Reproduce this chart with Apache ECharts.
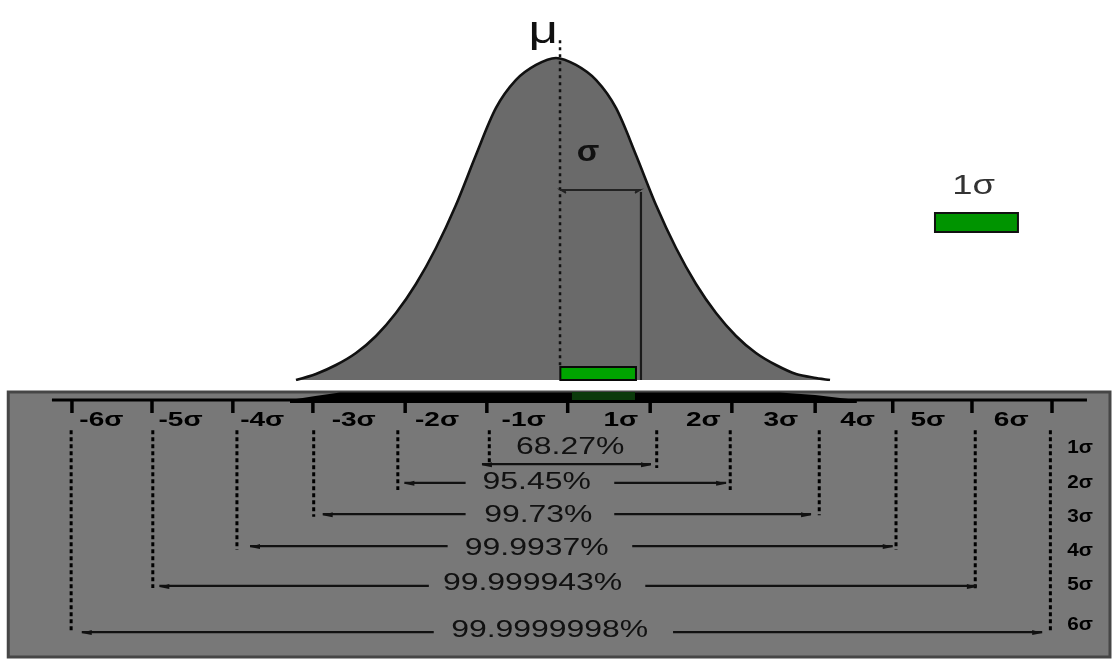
<!DOCTYPE html>
<html><head><meta charset="utf-8">
<script src="https://cdn.jsdelivr.net/npm/echarts@6/dist/echarts.min.js"></script>
<style>html,body{margin:0;padding:0;background:#fff}#c{width:1118px;height:660px}</style>
</head><body><div id="c"></div>
<script>
// ================= DATA =================
// Bell curve outline: x in sigma units, y in density units
const curveSigma   = [-3.257,-3.012,-2.767,-2.522,-2.277,-2.033,-1.788,-1.543,-1.298,-1.053,-0.808,-0.563,-0.318,-0.073,
                       0.171, 0.416, 0.661, 0.906, 1.151, 1.396, 1.641, 1.886, 2.131, 2.375, 2.620, 2.865, 3.110, 3.282];
const curveDensity = [0, 0.0075,0.0186,0.0335,0.0547,0.0832,0.1193,0.1640,0.2174,0.2795,0.3379,0.3727,0.3913,0.4000,
                      0.3913,0.3727,0.3379,0.2795,0.2174,0.1640,0.1193,0.0832,0.0547,0.0335,0.0186,0.0075,0.0025,0];
const meanSigma = -0.024;          // dotted centre line
const oneSigma  = 0.967;           // the "1σ" marker line
const sigmaBracketDensity = 0.236;

// Sigma scale (bottom panel)
const tickSigma      = [-6,-5.02,-4.03,-3.05,-1.92,-0.92,0.07,1.08,2.08,3.10,4.05,5.02,6.0];
const tickLabels     = ['-6σ','-5σ','-4σ','-3σ','-2σ','-1σ','1σ','2σ','3σ','4σ','5σ','6σ'];
const tickLabelSigma = [-5.64,-4.67,-3.67,-2.55,-1.53,-0.47,0.72,1.73,2.68,3.62,4.48,5.50];

// Coverage rows (row units in the lower panel)
const rowLabels        = ['1σ','2σ','3σ','4σ','5σ','6σ'];
const coverageLabels   = ['68.27%','95.45%','99.73%','99.9937%','99.999943%','99.9999998%'];
const coverageTextSigma= [0.10,-0.31,-0.29,-0.31,-0.36,-0.15];
const coverageTextRow  = [1.74,2.79,3.74,4.71,5.76,7.12];
const rowLabelRow      = [1.76,2.79,3.79,4.79,5.79,6.97];
const arrowRow         = [2.24,2.79,3.71,4.65,5.82,7.18];
const arrowOuterLeft   = [-0.98,-1.93,-2.93,-3.82,-4.93,-5.88];
const arrowOuterRight  = [1.09,2.01,3.05,4.05,5.08,5.88];
const arrowInnerLeft   = [null,-1.18,-1.18,-1.40,-1.63,-1.57];
const arrowInnerRight  = [null,0.64,0.64,0.86,1.02,1.36];
const boundLeftSigma   = [-0.89,-2.01,-3.04,-3.98,-5.01,-6.01];
const boundRightSigma  = [1.16,2.06,3.15,4.09,5.06,5.98];
const boundLeftEndRow  = [2.24,3.0,3.79,4.76,5.88,7.18];
const boundRightEndRow = [2.35,3.0,3.74,4.76,5.94,7.18];
const boundTopRow = 1.24;
const rowLabelSigma = 6.343;

// ================= CHART =================
const X_MIN = -6.881, X_MAX = 6.808;
const chart = echarts.init(document.getElementById('c'), null, {renderer:'canvas'});
const INK = '#111';
const FONT = '"Liberation Sans", Arial, sans-serif';

function txt(p, text, font, fill, sx){
  return {type:'text', x:p[0], y:p[1], scaleX:sx||1, style:{text:text, font:font, fill:fill, align:'center', verticalAlign:'middle'}};
}

const option = {
  animation:false,
  backgroundColor:'#ffffff',
  grid:[{left:0,right:0,top:0,height:380},{left:0,right:0,top:388,height:272}],
  xAxis:[{type:'value',gridIndex:0,min:X_MIN,max:X_MAX,show:false},
         {type:'value',gridIndex:1,min:X_MIN,max:X_MAX,show:false}],
  yAxis:[{type:'value',gridIndex:0,min:0,max:0.472,show:false},
         {type:'value',gridIndex:1,min:0,max:8,inverse:true,show:false}],
  series:[
    // ---- bell curve ----
    {type:'line', xAxisIndex:0, yAxisIndex:0, smooth:0.3, symbol:'none', z:2,
     data: curveSigma.map((x,i)=>[x,curveDensity[i]]),
     lineStyle:{color:INK,width:2.6}, areaStyle:{color:'#6a6a6a',opacity:1}},
    // ---- upper decorations ----
    {type:'custom', xAxisIndex:0, yAxisIndex:0, z:5,
     data:[[meanSigma,0.4]],
     renderItem:function(params, api){
       const top = api.coord([meanSigma,0.422]), bot = api.coord([meanSigma,0.018]);
       const bl = api.coord([meanSigma, sigmaBracketDensity]), br = api.coord([oneSigma, sigmaBracketDensity]);
       const vb = api.coord([oneSigma,0]);
       const g0 = api.coord([-0.02,0.016]), g1 = api.coord([0.906,0]);
       const l0 = api.coord([4.567,0.2075]), l1 = api.coord([5.583,0.1839]);
       return {type:'group', children:[
         {type:'line', shape:{x1:top[0],y1:top[1],x2:bot[0],y2:bot[1]}, style:{stroke:INK,lineWidth:2.5,lineDash:[3,4]}},
         {type:'line', shape:{x1:bl[0],y1:bl[1],x2:br[0],y2:br[1]}, style:{stroke:'#222',lineWidth:2}},
         {type:'polyline', shape:{points:[[bl[0]+6,bl[1]+3],[bl[0]+1,bl[1]],[bl[0]+6,bl[1]+1]]}, style:{stroke:'#222',lineWidth:1.5,fill:null}},
         {type:'polyline', shape:{points:[[br[0]-6,br[1]+3],[br[0]-1,br[1]],[br[0]-6,br[1]+1]]}, style:{stroke:'#222',lineWidth:1.5,fill:null}},
         {type:'line', shape:{x1:br[0],y1:br[1]+2,x2:vb[0],y2:vb[1]}, style:{stroke:'#1a1a1a',lineWidth:2.2}},
         {type:'rect', shape:{x:g0[0],y:g0[1],width:g1[0]-g0[0],height:g1[1]-g0[1]}, style:{fill:'#00a400',stroke:'#0a0a0a',lineWidth:2}},
         {type:'rect', shape:{x:l0[0],y:l0[1],width:l1[0]-l0[0],height:l1[1]-l0[1]}, style:{fill:'#009400',stroke:'#111',lineWidth:2}},
         txt(api.coord([-0.23,0.432]), 'μ', '38px '+FONT, INK, 1.35),
         txt(api.coord([0.32,0.282]), 'σ', 'bold 30px '+FONT, INK, 1.1),
         txt(api.coord([5.04,0.241]), '1σ', '28px '+FONT, '#333', 1.3)
       ]};
     }},
    // ---- lower panel background and scale ----
    {type:'custom', xAxisIndex:1, yAxisIndex:1, z:1,
     data:[[0,0]],
     renderItem:function(params, api){
       const p0 = api.coord([-6.78,0.118]), p1 = api.coord([6.71,7.91]);
       const a0 = api.coord([-6.245,0.353]), a1 = api.coord([6.428,0.353]);
       const band = [[-3.33,0.353],[-3.02,0.235],[-2.72,0.132],[2.67,0.132],[3.10,0.206],[3.61,0.353],[3.61,0.441],[-3.33,0.441]].map(p=>api.coord(p));
       const d0 = api.coord([0.122,0.118]), d1 = api.coord([0.894,0.353]);
       return {type:'group', children:[
         {type:'rect', shape:{x:p0[0],y:p0[1],width:p1[0]-p0[0],height:p1[1]-p0[1]}, style:{fill:'#787878',stroke:'#464646',lineWidth:3}},
         {type:'line', shape:{x1:a0[0],y1:a0[1],x2:a1[0],y2:a1[1]}, style:{stroke:'#000',lineWidth:3}},
         {type:'polygon', shape:{points:band}, style:{fill:'#000'}},
         {type:'rect', shape:{x:d0[0],y:d0[1],width:d1[0]-d0[0],height:d1[1]-d0[1]}, style:{fill:'#0b3a0b'}}
       ]};
     }},
    // ---- ticks ----
    {type:'custom', xAxisIndex:1, yAxisIndex:1, z:3,
     data: tickSigma.map(x=>[x,0.353]),
     renderItem:function(params, api){
       const a = api.coord([api.value(0),0.353]), b = api.coord([api.value(0),0.735]);
       return {type:'line', shape:{x1:a[0],y1:a[1],x2:b[0],y2:b[1]}, style:{stroke:'#000',lineWidth:3.5}};
     }},
    // ---- tick labels ----
    {type:'custom', xAxisIndex:1, yAxisIndex:1, z:3,
     data: tickLabelSigma.map(x=>[x,0.97]),
     renderItem:function(params, api){
       return txt(api.coord([api.value(0),api.value(1)]), tickLabels[params.dataIndex], 'bold 20px '+FONT, '#000', 1.4);
     }},
    // ---- dotted bounds ----
    {type:'custom', xAxisIndex:1, yAxisIndex:1, z:3,
     data: boundLeftSigma.map((x,i)=>[x, boundLeftEndRow[i]]),
     renderItem:function(params, api){
       const i = params.dataIndex;
       const l0 = api.coord([boundLeftSigma[i],boundTopRow]), l1 = api.coord([boundLeftSigma[i],boundLeftEndRow[i]]);
       const r0 = api.coord([boundRightSigma[i],boundTopRow]), r1 = api.coord([boundRightSigma[i],boundRightEndRow[i]]);
       const st = {stroke:'#000',lineWidth:3,lineDash:[4,3]};
       return {type:'group', children:[
         {type:'line', shape:{x1:l0[0],y1:l0[1],x2:l1[0],y2:l1[1]}, style:st},
         {type:'line', shape:{x1:r0[0],y1:r0[1],x2:r1[0],y2:r1[1]}, style:st}
       ]};
     }},
    // ---- arrows ----
    {type:'custom', xAxisIndex:1, yAxisIndex:1, z:3,
     data: arrowRow.map((y,i)=>[arrowOuterLeft[i], y]),
     renderItem:function(params, api){
       const i = params.dataIndex, y = arrowRow[i];
       const L = api.coord([arrowOuterLeft[i],y]), R = api.coord([arrowOuterRight[i],y]);
       const ls = {stroke:'#111',lineWidth:2.2};
       const ch = [];
       if (arrowInnerLeft[i] === null){
         ch.push({type:'line', shape:{x1:L[0],y1:L[1],x2:R[0],y2:R[1]}, style:ls});
       } else {
         const a = api.coord([arrowInnerLeft[i],y]), b = api.coord([arrowInnerRight[i],y]);
         ch.push({type:'line', shape:{x1:L[0],y1:L[1],x2:a[0],y2:a[1]}, style:ls});
         ch.push({type:'line', shape:{x1:b[0],y1:b[1],x2:R[0],y2:R[1]}, style:ls});
       }
       ch.push({type:'polygon', shape:{points:[[L[0],L[1]+1],[L[0]+10,L[1]-2],[L[0]+10,L[1]+3]]}, style:{fill:'#111'}});
       ch.push({type:'polygon', shape:{points:[[R[0],R[1]+1],[R[0]-10,R[1]-2],[R[0]-10,R[1]+3]]}, style:{fill:'#111'}});
       return {type:'group', children:ch};
     }},
    // ---- coverage texts ----
    {type:'custom', xAxisIndex:1, yAxisIndex:1, z:4,
     data: coverageTextSigma.map((x,i)=>[x, coverageTextRow[i]]),
     renderItem:function(params, api){
       return txt(api.coord([api.value(0),api.value(1)]), coverageLabels[params.dataIndex], '24px '+FONT, '#111', 1.33);
     }},
    // ---- row labels ----
    {type:'custom', xAxisIndex:1, yAxisIndex:1, z:4,
     data: rowLabelRow.map(y=>[rowLabelSigma, y]),
     renderItem:function(params, api){
       return txt(api.coord([api.value(0),api.value(1)]), rowLabels[params.dataIndex], 'bold 18px '+FONT, '#000', 1.15);
     }}
  ]
};
chart.setOption(option);
</script>
</body></html>
